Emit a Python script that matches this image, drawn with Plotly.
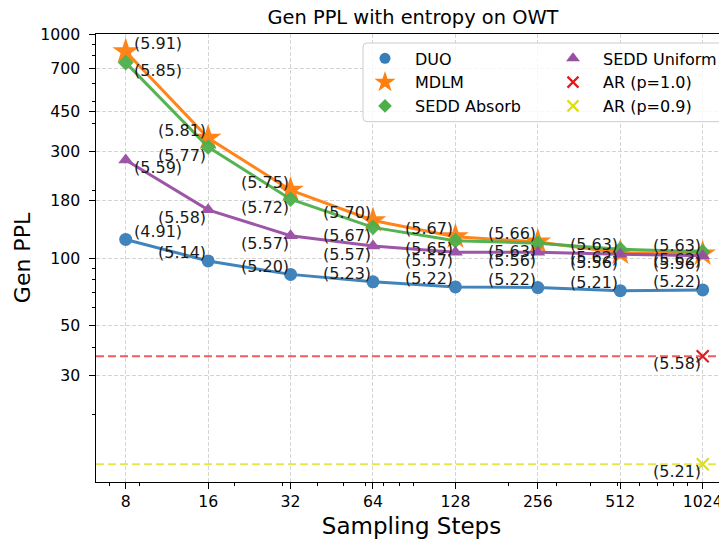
import numpy as np
import plotly.graph_objects as go

# ---------------- data ----------------
steps = [8, 16, 32, 64, 128, 256, 512, 1024]
step_labels = ["8", "16", "32", "64", "128", "256", "512", "1024"]

duo_ppl = [121, 97, 84.5, 78.3, 74.3, 73.8, 71.5, 72]
mdlm_ppl = [835, 343, 201, 147, 124.5, 118, 105.5, 104.5]
sedd_absorb_ppl = [745, 313, 183, 137, 119.5, 116.5, 109.5, 106.5]
sedd_uniform_ppl = [274, 164, 125.8, 113, 106.2, 106, 104, 102.4]

duo_ent = [4.91, 5.14, 5.20, 5.23, 5.22, 5.22, 5.21, 5.22]
mdlm_ent = [5.91, 5.81, 5.75, 5.70, 5.67, 5.66, 5.63, 5.63]
sedd_absorb_ent = [5.85, 5.77, 5.72, 5.67, 5.65, 5.63, 5.62, 5.62]
sedd_uniform_ent = [5.59, 5.58, 5.57, 5.57, 5.57, 5.56, 5.56, 5.56]

ar_names = ["AR (p=1.0)", "AR (p=0.9)"]
ar_ppl = [36.4, 12.0]
ar_ent = [5.58, 5.21]

y_ticks = [30, 50, 100, 180, 300, 450, 700, 1000]
y_minor = [20, 40, 60, 70, 80, 90, 200, 400, 500, 600, 800, 900]
x_minor = [7, 9, 20, 30, 40, 50, 60, 70, 80, 90, 200, 300, 400, 500, 600, 700, 800, 900]

# ---------------- layout geometry ----------------
# page body has an 8px default margin, so the figure is offset by 8px
FONT = "DejaVu Sans"
OFF = 8
WIN_W, WIN_H = 727, 539
W, H = WIN_W - OFF, WIN_H - OFF
PLOT_L, PLOT_R, PLOT_T, PLOT_B = 96, 727, 34, 482     # in window pixels
ML, MT = PLOT_L - OFF, PLOT_T - OFF
MR = (OFF + W) - PLOT_R
MB = (OFF + H) - PLOT_B
PW, PH = PLOT_R - PLOT_L, PLOT_B - PLOT_T

series = [
    dict(name="DUO", y=duo_ppl, ent=duo_ent, color="#377eb8", symbol="circle",
         size=13, leg_size=11, above=True),
    dict(name="MDLM", y=mdlm_ppl, ent=mdlm_ent, color="#ff7f0e", symbol="star",
         size=20, leg_size=16, above=True),
    dict(name="SEDD Absorb", y=sedd_absorb_ppl, ent=sedd_absorb_ent, color="#4daf4a",
         symbol="diamond", size=12, leg_size=10.5, above=False),
    dict(name="SEDD Uniform", y=sedd_uniform_ppl, ent=sedd_uniform_ent, color="#984ea3",
         symbol="triangle-up", size=13, leg_size=12, above=False),
]
ar_colors = ["#e41a1c", "#dede10"]
ar_line_colors = ["rgba(228,26,28,0.7)", "rgba(222,222,16,0.75)"]

fig = go.Figure()

# main lines
for s in series:
    fig.add_trace(go.Scatter(
        x=steps, y=s["y"], mode="lines+markers", name=s["name"],
        line=dict(color=s["color"], width=3),
        marker=dict(symbol=s["symbol"], size=s["size"], color=s["color"]),
        opacity=0.95, showlegend=False, hoverinfo="skip",
    ))

# AR horizontal reference lines + markers at the last step
for name, v, c_line in zip(ar_names, ar_ppl, ar_line_colors):
    fig.add_shape(type="line", xref="x domain", x0=0, x1=1, yref="y", y0=v, y1=v,
                  line=dict(color=c_line, width=2, dash="8px,4px"), layer="above")
for name, v, c in zip(ar_names, ar_ppl, ar_colors):
    fig.add_trace(go.Scatter(
        x=[steps[-1]], y=[v], mode="markers", name=name, showlegend=False,
        marker=dict(symbol="x-thin", size=12, line=dict(color=c, width=2.2)),
        hoverinfo="skip",
    ))

# entropy annotations
ann_font = dict(family=FONT, size=16, color="#1a1a1a")
for s in series:
    for i, (xv, yv, e) in enumerate(zip(steps, s["y"], s["ent"])):
        first = i == 0
        fig.add_annotation(
            x=np.log10(xv), y=np.log10(yv), text=f"({e:.2f})", showarrow=False,
            xanchor="left" if first else "right", yanchor="middle",
            xshift=6 if first else 0, yshift=8 if s["above"] else -8,
            font=ann_font,
        )
for v, e in zip(ar_ppl, ar_ent):
    fig.add_annotation(
        x=np.log10(steps[-1]), y=np.log10(v), text=f"({e:.2f})", showarrow=False,
        xanchor="right", yanchor="middle", xshift=0, yshift=-7, font=ann_font,
    )

# legend entries (markers only), two columns via two legends
for s in series[:3]:
    fig.add_trace(go.Scatter(x=[None], y=[None], mode="markers", name=s["name"],
                             marker=dict(symbol=s["symbol"], size=s["leg_size"], color=s["color"]),
                             legend="legend"))
for s in series[3:]:
    fig.add_trace(go.Scatter(x=[None], y=[None], mode="markers", name=s["name"],
                             marker=dict(symbol=s["symbol"], size=s["leg_size"], color=s["color"]),
                             legend="legend2"))
for name, c in zip(ar_names, ar_colors):
    fig.add_trace(go.Scatter(x=[None], y=[None], mode="markers", name=name,
                             marker=dict(symbol="x-thin", size=11, line=dict(color=c, width=2.2)),
                             legend="legend2"))


def px(xp):  # window x pixel -> paper
    return (xp - PLOT_L) / PW


def py(yp):  # window y pixel -> paper
    return (PLOT_B - yp) / PH


# legend frame (rounded)
bx0, bx1, by0, by1 = 363, 722.7, 43, 121.7
rx, ry = 4 / PW, 4 / PH
x0, x1, y0, y1 = px(bx0), px(bx1), py(by1), py(by0)
path = (f"M {x0+rx},{y0} L {x1-rx},{y0} Q {x1},{y0} {x1},{y0+ry} "
        f"L {x1},{y1-ry} Q {x1},{y1} {x1-rx},{y1} L {x0+rx},{y1} "
        f"Q {x0},{y1} {x0},{y1-ry} L {x0},{y0+ry} Q {x0},{y0} {x0+rx},{y0} Z")
fig.add_shape(type="path", path=path, xref="paper", yref="paper",
              fillcolor="rgba(255,255,255,0.8)", line=dict(color="#cccccc", width=1),
              layer="above")

leg_common = dict(bgcolor="rgba(0,0,0,0)", borderwidth=0, itemwidth=50,
                  font=dict(family=FONT, size=16, color="#000"),
                  xanchor="left", yanchor="top", orientation="v",
                  itemclick=False, itemdoubleclick=False)

fig.update_layout(
    width=W, height=H,
    margin=dict(l=ML, r=MR, t=MT, b=MB, autoexpand=False),
    paper_bgcolor="white", plot_bgcolor="white",
    font=dict(family=FONT, color="#000"),
    title=dict(text="Gen PPL with entropy on OWT", font=dict(family=FONT, size=19.4, color="#000"),
               x=(413 - OFF) / W, xref="container", xanchor="center",
               y=1 - (17.5 - OFF) / H, yref="container", yanchor="middle"),
    legend=dict(x=px(355), y=py(41.4), **leg_common),
    legend2=dict(x=px(543), y=py(41.4), **leg_common),
    showlegend=True,
)

fig.update_xaxes(
    type="log", range=[0.7946, 3.099],
    tickmode="array", tickvals=steps, ticktext=step_labels,
    ticks="outside", ticklen=5.5, tickwidth=1, tickcolor="#000",
    tickfont=dict(family=FONT, size=15.7, color="#000"),
    showline=True, linecolor="#000", linewidth=1.3, mirror=True,
    showgrid=True, gridcolor="#d4d4d4", gridwidth=1, griddash="4px,2px",
    minor=dict(tickmode="array", tickvals=x_minor, ticks="outside", ticklen=3,
               tickwidth=0.8, tickcolor="#000", showgrid=False),
    zeroline=False,
    title=dict(text="Sampling Steps", font=dict(family=FONT, size=23, color="#000"), standoff=7),
)
fig.update_yaxes(
    type="log", range=[np.log10(10), np.log10(1000)],
    tickmode="array", tickvals=y_ticks, ticktext=[str(t) for t in y_ticks],
    ticks="outside", ticklen=5.5, tickwidth=1, tickcolor="#000",
    tickfont=dict(family=FONT, size=15.7, color="#000"),
    ticklabelstandoff=6,
    showline=True, linecolor="#000", linewidth=1.3, mirror=False,
    showgrid=True, gridcolor="#d4d4d4", gridwidth=1, griddash="4px,2px",
    minor=dict(tickmode="array", tickvals=y_minor, ticks="outside", ticklen=3,
               tickwidth=0.8, tickcolor="#000", showgrid=False),
    zeroline=False,
    title=dict(text="Gen PPL", font=dict(family=FONT, size=22, color="#000"), standoff=3),
)

fig.write_html("out.html")
